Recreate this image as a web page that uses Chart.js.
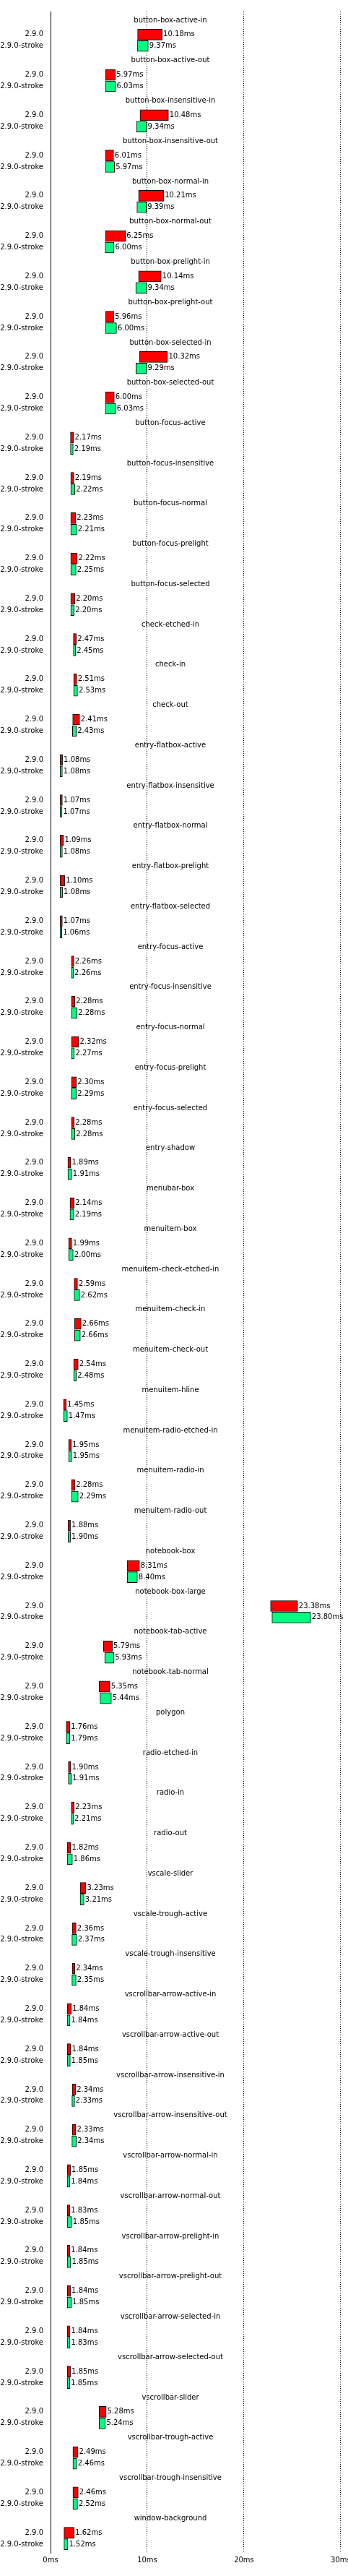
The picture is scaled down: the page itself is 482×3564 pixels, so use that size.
<!DOCTYPE html>
<html>
<head>
<meta charset="utf-8">
<script src="https://cdn.jsdelivr.net/npm/chart.js@4"></script>
<style>
    html, body { margin: 0; padding: 0; background: #fff; }
    canvas { display: block; }
</style>
</head>
<body>
<canvas id="chart" width="482" height="3564"></canvas>
<script>
// =========================
//  DATA
// =========================
const tests = [
    "button-box-active-in", "button-box-active-out", "button-box-insensitive-in", "button-box-insensitive-out",
    "button-box-normal-in", "button-box-normal-out", "button-box-prelight-in", "button-box-prelight-out",
    "button-box-selected-in", "button-box-selected-out", "button-focus-active", "button-focus-insensitive",
    "button-focus-normal", "button-focus-prelight", "button-focus-selected", "check-etched-in",
    "check-in", "check-out", "entry-flatbox-active", "entry-flatbox-insensitive",
    "entry-flatbox-normal", "entry-flatbox-prelight", "entry-flatbox-selected", "entry-focus-active",
    "entry-focus-insensitive", "entry-focus-normal", "entry-focus-prelight", "entry-focus-selected",
    "entry-shadow", "menubar-box", "menuitem-box", "menuitem-check-etched-in",
    "menuitem-check-in", "menuitem-check-out", "menuitem-hline", "menuitem-radio-etched-in",
    "menuitem-radio-in", "menuitem-radio-out", "notebook-box", "notebook-box-large",
    "notebook-tab-active", "notebook-tab-normal", "polygon", "radio-etched-in",
    "radio-in", "radio-out", "vscale-slider", "vscale-trough-active",
    "vscale-trough-insensitive", "vscrollbar-arrow-active-in", "vscrollbar-arrow-active-out", "vscrollbar-arrow-insensitive-in",
    "vscrollbar-arrow-insensitive-out", "vscrollbar-arrow-normal-in", "vscrollbar-arrow-normal-out", "vscrollbar-arrow-prelight-in",
    "vscrollbar-arrow-prelight-out", "vscrollbar-arrow-selected-in", "vscrollbar-arrow-selected-out", "vscrollbar-slider",
    "vscrollbar-trough-active", "vscrollbar-trough-insensitive", "window-background"
];

const versions = ["2.9.0", "2.9.0-stroke"];

// mean times (ms), shown as labels
const mean290 = [
    10.18, 5.97, 10.48, 6.01, 10.21, 6.25, 10.14, 5.96, 10.32, 6.00,
    2.17, 2.19, 2.23, 2.22, 2.20, 2.47, 2.51, 2.41, 1.08, 1.07,
    1.09, 1.10, 1.07, 2.26, 2.28, 2.32, 2.30, 2.28, 1.89, 2.14,
    1.99, 2.59, 2.66, 2.54, 1.45, 1.95, 2.28, 1.88, 8.31, 23.38,
    5.79, 5.35, 1.76, 1.90, 2.23, 1.82, 3.23, 2.36, 2.34, 1.84,
    1.84, 2.34, 2.33, 1.85, 1.83, 1.84, 1.84, 1.84, 1.85, 5.28,
    2.49, 2.46, 1.62
];
const meanStroke = [
    9.37, 6.03, 9.34, 5.97, 9.39, 6.00, 9.34, 6.00, 9.29, 6.03,
    2.19, 2.22, 2.21, 2.25, 2.20, 2.45, 2.53, 2.43, 1.08, 1.07,
    1.08, 1.08, 1.06, 2.26, 2.28, 2.27, 2.29, 2.28, 1.91, 2.19,
    2.00, 2.62, 2.66, 2.48, 1.47, 1.95, 2.29, 1.90, 8.40, 23.80,
    5.93, 5.44, 1.79, 1.91, 2.21, 1.86, 3.21, 2.37, 2.35, 1.84,
    1.85, 2.33, 2.34, 1.84, 1.85, 1.85, 1.85, 1.83, 1.85, 5.24,
    2.46, 2.52, 1.52
];

// min / max of the runs (ms), drawn as floating bars
const low290 = [
    9.00, 5.67, 9.25, 5.67, 9.10, 5.67, 9.10, 5.70, 9.18, 5.67,
    2.06, 2.09, 2.09, 2.09, 2.09, 2.36, 2.39, 2.29, 1.00, 1.00,
    1.00, 1.00, 1.00, 2.16, 2.16, 2.16, 2.16, 2.16, 1.79, 2.01,
    1.87, 2.44, 2.49, 2.39, 1.34, 1.87, 2.16, 1.82, 7.94, 22.74,
    5.47, 5.02, 1.62, 1.84, 2.14, 1.72, 3.06, 2.24, 2.24, 1.72,
    1.72, 2.24, 2.24, 1.72, 1.72, 1.72, 1.72, 1.72, 1.72, 5.02,
    2.31, 2.31, 1.39
];
const high290 = [
    11.54, 6.69, 12.19, 6.52, 11.69, 7.74, 11.44, 6.54, 12.09, 6.59,
    2.39, 2.41, 2.59, 2.76, 2.51, 2.66, 2.71, 3.01, 1.24, 1.22,
    1.34, 1.47, 1.22, 2.41, 2.51, 2.91, 2.66, 2.44, 2.09, 2.44,
    2.19, 2.79, 3.16, 2.86, 1.62, 2.14, 2.51, 2.06, 9.20, 25.55,
    6.39, 6.14, 1.99, 2.09, 2.44, 2.09, 3.66, 2.64, 2.51, 2.14,
    2.09, 2.59, 2.61, 2.06, 1.99, 1.99, 2.06, 2.01, 2.06, 5.75,
    2.84, 2.86, 2.44
];
const lowStroke = [
    8.96, 5.67, 8.88, 5.67, 8.93, 5.65, 8.81, 5.67, 8.83, 5.67,
    2.06, 2.09, 2.09, 2.09, 2.09, 2.36, 2.39, 2.26, 1.00, 1.00,
    1.00, 1.00, 1.00, 2.16, 2.16, 2.16, 2.14, 2.16, 1.79, 2.01,
    1.87, 2.44, 2.49, 2.39, 1.34, 1.87, 2.16, 1.82, 7.94, 22.89,
    5.60, 5.12, 1.62, 1.84, 2.14, 1.72, 3.06, 2.21, 2.21, 1.72,
    1.72, 2.21, 2.21, 1.72, 1.72, 1.72, 1.72, 1.72, 1.72, 5.02,
    2.31, 2.31, 1.39
];
const highStroke = [
    10.10, 6.72, 9.93, 6.62, 9.90, 6.57, 9.93, 6.82, 9.93, 6.74,
    2.34, 2.51, 2.71, 2.64, 2.44, 2.59, 2.79, 2.66, 1.22, 1.19,
    1.22, 1.24, 1.17, 2.36, 2.74, 2.46, 2.66, 2.51, 2.19, 2.41,
    2.34, 3.01, 3.08, 2.66, 1.74, 2.19, 2.86, 2.06, 8.98, 26.89,
    6.54, 6.29, 1.99, 2.14, 2.36, 2.26, 3.46, 2.71, 2.64, 2.01,
    2.04, 2.49, 2.66, 1.99, 2.19, 2.09, 2.14, 2.01, 1.99, 5.67,
    2.71, 2.79, 1.79
];

const xTicks = [0, 10, 20, 30];

// =========================
//  ROW LAYOUT
// =========================
// every test takes 14 thin category rows: the title sits on row 3,
// the two version bars on rows 8 and 12
const ROWS = 14;
const TITLE_ROW = 3;
const VERSION_ROWS = [8, 12];

const rowLabels = [];
const rows290 = [];
const rowsStroke = [];

tests.forEach((name, t) => {
    for (let r = 0; r < ROWS; r++) {
        rowLabels.push(r === VERSION_ROWS[0] ? versions[0] : r === VERSION_ROWS[1] ? versions[1] : "");
        rows290.push(r === VERSION_ROWS[0] ? [low290[t], high290[t]] : null);
        rowsStroke.push(r === VERSION_ROWS[1] ? [lowStroke[t], highStroke[t]] : null);
    }
});
// two spare rows so the plot runs a bit past the last bar
rowLabels.push("", "");
rows290.push(null, null);
rowsStroke.push(null, null);

// =========================
//  PLUGINS
// =========================
const FONT = "10px 'DejaVu Sans', sans-serif";

const testTitles = {
    id: "testTitles",
    afterDatasetsDraw(chart) {
        const ctx = chart.ctx;
        const yScale = chart.scales.y;
        ctx.save();
        ctx.font = FONT;
        ctx.fillStyle = "#000";
        ctx.textAlign = "center";
        ctx.textBaseline = "middle";
        tests.forEach((name, t) => {
            ctx.fillText(name, 236, yScale.getPixelForValue(t * ROWS + TITLE_ROW));
        });
        ctx.restore();
    }
};

const valueLabels = {
    id: "valueLabels",
    afterDatasetsDraw(chart) {
        const ctx = chart.ctx;
        ctx.save();
        ctx.font = FONT;
        ctx.fillStyle = "#000";
        ctx.textAlign = "left";
        ctx.textBaseline = "middle";
        chart.data.datasets.forEach((ds, di) => {
            const meta = chart.getDatasetMeta(di);
            meta.data.forEach((bar, i) => {
                if (ds.data[i] == null) return;
                const mean = ds.means[Math.floor(i / ROWS)];
                ctx.fillText(mean.toFixed(2) + "ms", bar.x + 1.5, bar.y);
            });
        });
        ctx.restore();
    }
};

// =========================
//  CHART
// =========================
Chart.defaults.font.family = "'DejaVu Sans', sans-serif";
Chart.defaults.font.size = 10;
Chart.defaults.color = "#000";

function barDataset(label, data, means, color) {
    return {
        label,
        data,
        means,
        backgroundColor: color,
        borderColor: "#000",
        borderWidth: 1,
        borderSkipped: false,
        barThickness: 15,
        grouped: false
    };
}

new Chart(document.getElementById("chart"), {
    type: "bar",
    data: {
        labels: rowLabels,
        datasets: [
            barDataset(versions[0], rows290, mean290, "#ff0000"),
            barDataset(versions[1], rowsStroke, meanStroke, "#00ff80")
        ]
    },
    options: {
        indexAxis: "y",
        responsive: false,
        animation: false,
        events: [],
        layout: { padding: { top: 0, bottom: 12, left: 0, right: 0 } },
        plugins: {
            legend: { display: false },
            tooltip: { enabled: false }
        },
        scales: {
            y: {
                type: "category",
                offset: false,
                afterFit: s => { s.width = 70; },
                grid: { display: false, drawTicks: false },
                border: { display: true, color: "#000", width: 1 },
                ticks: {
                    autoSkip: false,
                    padding: 10,
                    callback: (v, i) => rowLabels[i] || null
                }
            },
            x: {
                type: "linear",
                min: 0,
                max: 30.75,
                afterFit: s => { s.paddingRight = 0; },
                afterBuildTicks: s => { s.ticks = xTicks.map(v => ({ value: v })); },
                grid: { color: "#000", lineWidth: 1, drawTicks: false },
                border: { display: false, dash: [1, 2] },
                ticks: {
                    padding: 4,
                    callback: v => v + "ms"
                }
            }
        }
    },
    plugins: [testTitles, valueLabels]
});
</script>
</body>
</html>
